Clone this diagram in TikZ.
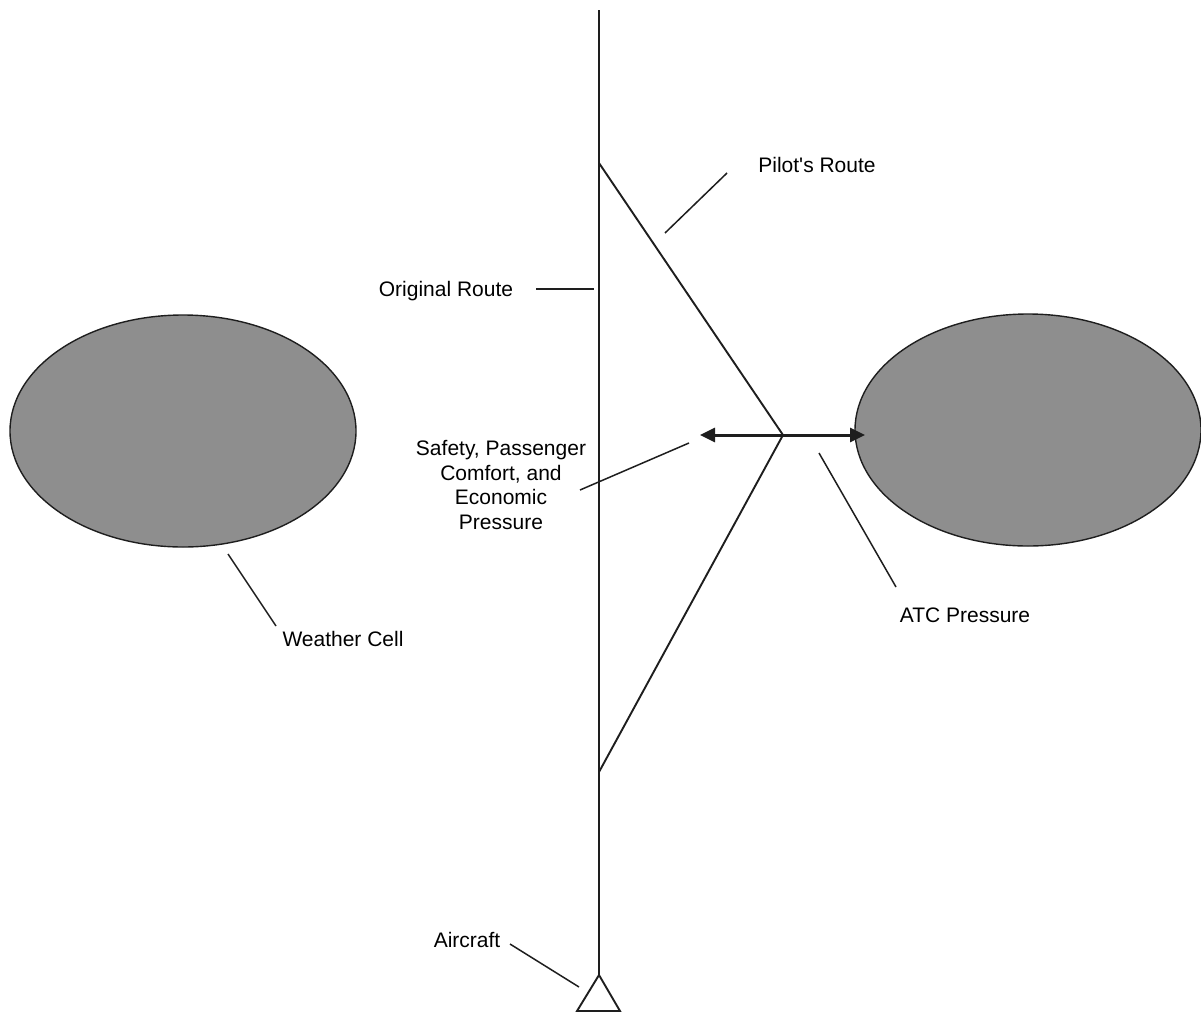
\documentclass[tikz,border=0pt]{standalone}
\usepackage{fontspec}
\setmainfont{Liberation Sans}
\usetikzlibrary{arrows.meta,shapes.geometric}
\definecolor{cellgray}{RGB}{142,142,142}
\definecolor{ink}{RGB}{30,30,30}
\begin{document}
\begin{tikzpicture}[x=1pt,y=-1pt,
  route/.style={draw=ink,line width=1.9pt},
  leader/.style={draw=ink,line width=1.5pt},
  cell/.style={ellipse,draw=ink,line width=1.4pt,fill=cellgray,
    minimum width=346pt,minimum height=232pt,inner sep=0pt},
  lbl/.style={inner sep=0pt,font=\fontsize{21}{24.5}\selectfont,text=black},
  push/.style={draw=ink,line width=3pt,
    {Triangle[length=15pt,width=14pt]}-{Triangle[length=15pt,width=14pt]}}]
\useasboundingbox (0,0) rectangle (1201,1012);

% weather cells
\node[cell] (wx) at (183,431) {};
\node[cell] (atc) at (1028,430) {};

% original route and aircraft symbol
\coordinate (top) at (599,10);
\coordinate (nose) at (599,975);
\coordinate (wingL) at (577,1011);
\coordinate (wingR) at (620,1011);
\draw[route] (top) -- (nose);
\draw[route] (nose) -- (wingL) -- (wingR) -- cycle;

% pilot's deviation around the cell
\coordinate (dev1) at (599,163);
\coordinate (apex) at (783,435);
\coordinate (dev2) at (599,772);
\draw[route] (dev1) -- (apex) -- (dev2);

% competing pressures
\coordinate (pl) at (700,435);
\coordinate (pr) at (865,435);
\draw[push] (pl) -- (pr);

% labels
\node[lbl,anchor=base] (lpilot) at (817,172) {Pilot\textquotesingle s Route};
\node[lbl,anchor=base] (lorig) at (446,296) {Original Route};
\node[lbl,align=center] (lsafe) at (501,485) {Safety, Passenger\\Comfort, and\\Economic\\Pressure};
\node[lbl,anchor=base] (latc) at (965,622) {ATC Pressure};
\node[lbl,anchor=base] (lwx) at (343,646) {Weather Cell};
\node[lbl,anchor=base] (lac) at (467,947) {Aircraft};

% leader lines
\coordinate (p1) at (665,233); \coordinate (p2) at (727,173);
\coordinate (o1) at (536,289); \coordinate (o2) at (594,289);
\coordinate (s1) at (580,490); \coordinate (s2) at (689,443);
\coordinate (a1) at (819,453); \coordinate (a2) at (896,587);
\coordinate (w1) at (228,554); \coordinate (w2) at (276,626);
\coordinate (c1) at (510,944); \coordinate (c2) at (579,987);
\draw[leader] (p1) -- (p2);
\draw[leader] (o1) -- (o2);
\draw[leader] (s1) -- (s2);
\draw[leader] (a1) -- (a2);
\draw[leader] (w1) -- (w2);
\draw[leader] (c1) -- (c2);
\end{tikzpicture}
\end{document}
